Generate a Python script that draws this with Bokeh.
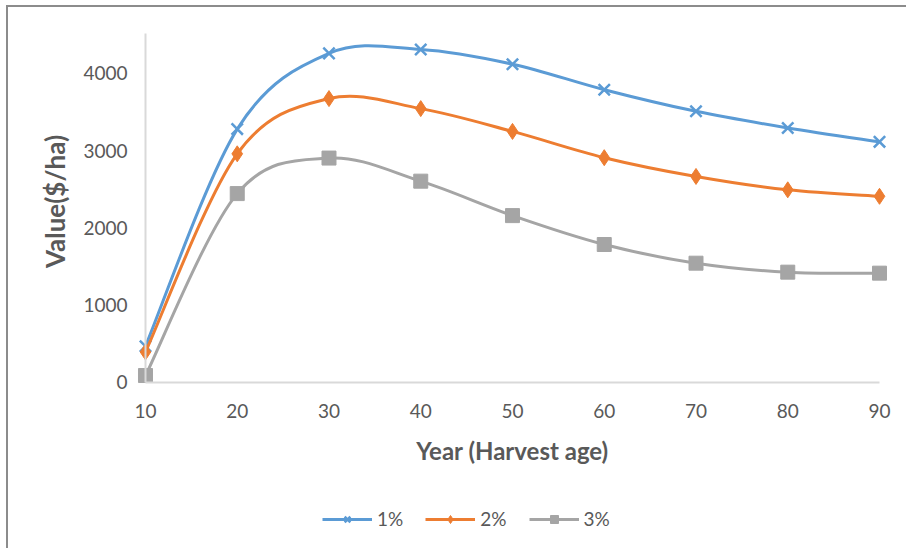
import math
from bokeh.plotting import figure
from bokeh.models import Range1d, FixedTicker, Legend, LegendItem, ColumnDataSource, Label
from bokeh.embed import file_html
from bokeh.resources import INLINE

years = [10, 20, 30, 40, 50, 60, 70, 80, 90]
rate_1 = [470, 3280, 4260, 4310, 4120, 3790, 3510, 3295, 3115]
rate_2 = [395, 2960, 3675, 3545, 3250, 2910, 2667, 2494, 2410]
rate_3 = [90, 2445, 2905, 2606, 2160, 1786, 1544, 1428, 1415]
series_names = ["1%", "2%", "3%"]
y_ticks = [0, 1000, 2000, 3000, 4000]
x_title = "Year (Harvest age)"
y_title = "Value($/ha)"

colors = ["#5B9BD5", "#ED7D31", "#A5A5A5"]
FONT = "Lato"
TEXT_COLOR = "#595959"


def smooth_segments(xs, ys):
    """Bezier control points (Catmull-Rom style, like a spreadsheet's smoothed line)."""
    n = len(xs)
    d = dict(x0=[], y0=[], x1=[], y1=[], cx0=[], cy0=[], cx1=[], cy1=[])
    for i in range(n - 1):
        im1 = max(i - 1, 0)
        ip2 = min(i + 2, n - 1)
        d["x0"].append(xs[i]); d["y0"].append(ys[i])
        d["x1"].append(xs[i + 1]); d["y1"].append(ys[i + 1])
        d["cx0"].append(xs[i] + (xs[i + 1] - xs[im1]) / 6)
        d["cy0"].append(ys[i] + (ys[i + 1] - ys[im1]) / 6)
        d["cx1"].append(xs[i + 1] - (xs[ip2] - xs[i]) / 6)
        d["cy1"].append(ys[i + 1] - (ys[ip2] - ys[i]) / 6)
    return ColumnDataSource(d)


p = figure(width=900, height=543, output_backend="svg", toolbar_location=None,
           x_range=Range1d(-4.93, 93.16), y_range=Range1d(-2175, 4854),
           min_border_left=0, min_border_right=0, min_border_top=0, min_border_bottom=0)
p.styles = {"margin-left": "6px", "margin-top": "5px",
            "border-top": "2px solid #8c8c8c", "border-left": "2px solid #8c8c8c"}

p.outline_line_color = None
p.grid.visible = False
p.background_fill_color = "white"
p.border_fill_color = "white"

for ax in (p.xaxis[0], p.yaxis[0]):
    ax.axis_line_color = "#D9D9D9"
    ax.axis_line_width = 2
    ax.major_tick_line_color = None
    ax.minor_tick_line_color = None
    ax.major_tick_out = 0
    ax.major_tick_in = 0
    ax.major_label_text_font = FONT
    ax.major_label_text_font_size = "19px"
    ax.major_label_text_color = TEXT_COLOR

p.xaxis.ticker = FixedTicker(ticks=years)
p.yaxis.ticker = FixedTicker(ticks=y_ticks)
p.xaxis.fixed_location = 0
p.yaxis.fixed_location = years[0]
p.xaxis.bounds = (years[0], years[-1])
p.yaxis.bounds = (0, 4518)
p.xaxis.major_label_standoff = 22
p.yaxis.major_label_standoff = 18

# axis titles
p.add_layout(Label(x=50, y=-880, text=x_title, text_align="center", text_baseline="middle",
                   text_font=FONT, text_font_size="24px", text_font_style="bold",
                   text_color=TEXT_COLOR))
p.add_layout(Label(x=0.19, y=2343, text=y_title, angle=math.pi / 2, text_align="center",
                   text_baseline="middle", text_font=FONT, text_font_size="26px",
                   text_font_style="bold", text_color=TEXT_COLOR))

items = []
all_series = [rate_1, rate_2, rate_3]
markers = [("x", 16), ("diamond", 16), ("square", 14)]
for name, vals, col, (mk, sz) in zip(series_names, all_series, colors, markers):
    src = smooth_segments(years, vals)
    line_r = p.bezier(x0="x0", y0="y0", x1="x1", y1="y1", cx0="cx0", cy0="cy0",
                      cx1="cx1", cy1="cy1", source=src, line_color=col, line_width=3)
    if mk == "x":
        pt_r = p.scatter(years, vals, marker=mk, size=sz, line_color=col, line_width=2.5)
    else:
        pt_r = p.scatter(years, vals, marker=mk, size=sz, fill_color=col, line_color=col)
    items.append(LegendItem(label=name, renderers=[line_r, pt_r]))

legend = Legend(items=items, orientation="horizontal", location=(314, 20),
                glyph_width=50, glyph_height=20, label_height=20, label_standoff=5,
                spacing=22, padding=5, margin=0, border_line_color=None,
                background_fill_alpha=0, label_text_font=FONT,
                label_text_font_size="19px", label_text_color=TEXT_COLOR)
p.add_layout(legend, "center")

open("out.html", "w").write(file_html(p, INLINE))
